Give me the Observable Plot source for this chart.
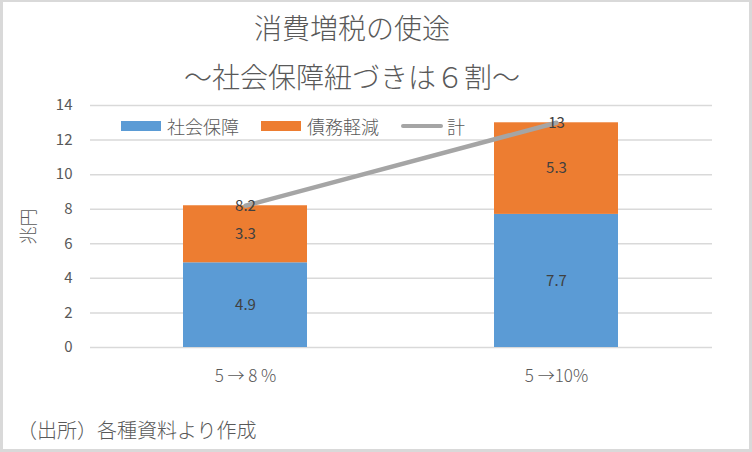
<!DOCTYPE html>
<html><head><meta charset="utf-8">
<script src="https://cdn.jsdelivr.net/npm/d3@7"></script>
<script src="https://cdn.jsdelivr.net/npm/@observablehq/plot@0.6"></script>
<style>
html,body{margin:0;padding:0;background:#fff;}
#outer{position:relative;width:752px;height:452px;background:#d9d9d9;font-family:"Noto Sans CJK JP","Noto Sans",sans-serif;color:#595959;overflow:hidden;}
#inner{position:absolute;left:3px;top:2px;width:746px;height:447px;background:#fff;}
.abs{position:absolute;white-space:nowrap;font-weight:300;}
#title,#subtitle{left:0;width:704px;text-align:center;font-size:28px;line-height:30px;}
#title{top:12px;}
#subtitle{top:61px;}
#chart{position:absolute;left:0;top:90px;}
#legend{top:116px;left:121px;font-size:18px;line-height:20px;display:flex;align-items:center;}
.sw{display:inline-block;width:40px;height:10px;margin-right:6px;}
.ln{display:inline-block;width:42px;height:4px;border-radius:2px;background:#a5a5a5;margin-right:4px;}
.lt{margin-right:22px;}
#caption{left:17px;top:418px;font-size:20px;line-height:24px;}
</style></head>
<body>
<div id="outer">
  <div id="inner"></div>
  <div class="abs" id="title">消費増税の使途</div>
  <div class="abs" id="subtitle">～社会保障紐づきは６割～</div>
  <div id="chart"></div>
  <div class="abs" id="legend"></div>
  <div class="abs" id="caption">（出所）各種資料より作成</div>
</div>
<script>
const categories = ["5 → 8 %", "5 →10%"];
const seriesNames = ["社会保障", "債務軽減"];
const socialSecurity = [4.9, 7.7];
const debtReduction = [3.3, 5.3];
const totals = [8.2, 13];
const totalName = "計";
const yTicks = [0, 2, 4, 6, 8, 10, 12, 14];
const yLabel = "兆円";
const colors = ["#5b9bd5", "#ed7d31"];
const lineColor = "#a5a5a5";

const rows = [];
categories.forEach((c, i) => {
  rows.push({cat: c, series: seriesNames[0], value: socialSecurity[i]});
  rows.push({cat: c, series: seriesNames[1], value: debtReduction[i]});
});
const totalRows = categories.map((c, i) => ({cat: c, total: totals[i]}));

const chart = Plot.plot({
  width: 752,
  height: 310,
  marginLeft: 90,
  marginRight: 40,
  marginTop: 15,
  marginBottom: 53,
  style: {fontFamily: '"Noto Sans CJK JP","Noto Sans",sans-serif', color: "#595959", background: "transparent"},
  x: {domain: categories, paddingInner: 0.6, paddingOuter: 0.3, label: null},
  y: {domain: [0, 14], label: null},
  color: {domain: seriesNames, range: colors},
  marks: [
    Plot.gridY(yTicks, {stroke: "#d9d9d9", strokeOpacity: 1, strokeWidth: 1.5}),
    Plot.barY(rows, {x: "cat", y: "value", fill: "series", order: seriesNames}),
    Plot.text(rows, Plot.stackY({x: "cat", y: "value", z: "series", order: seriesNames, text: d => d.value.toFixed(1), fill: "#404040", fontSize: 15})),
    Plot.line(totalRows, {x: "cat", y: "total", stroke: lineColor, strokeWidth: 4.5}),
    Plot.text(totalRows, {x: "cat", y: "total", text: d => String(d.total), fill: "#404040", fontSize: 15}),
    Plot.axisY(yTicks, {tickSize: 0, tickPadding: 18, fontSize: 15, fill: "#595959", label: null}),
    Plot.axisX({tickSize: 0, tickPadding: 22, fontSize: 17, fill: "#595959", label: null, fontWeight: 300}),
    Plot.text([yLabel], {frameAnchor: "left", textAnchor: "middle", dx: -61, dy: 0, rotate: -90, fontSize: 18, fill: "#595959", fontWeight: 300})
  ]
});
document.getElementById("chart").appendChild(chart);

const legend = document.getElementById("legend");
seriesNames.forEach((s, i) => {
  const sw = document.createElement("span"); sw.className = "sw"; sw.style.background = colors[i];
  const t = document.createElement("span"); t.className = "lt"; t.textContent = s;
  legend.appendChild(sw); legend.appendChild(t);
});
const ln = document.createElement("span"); ln.className = "ln";
const lt = document.createElement("span"); lt.textContent = totalName;
legend.appendChild(ln); legend.appendChild(lt);
</script>
</body></html>
